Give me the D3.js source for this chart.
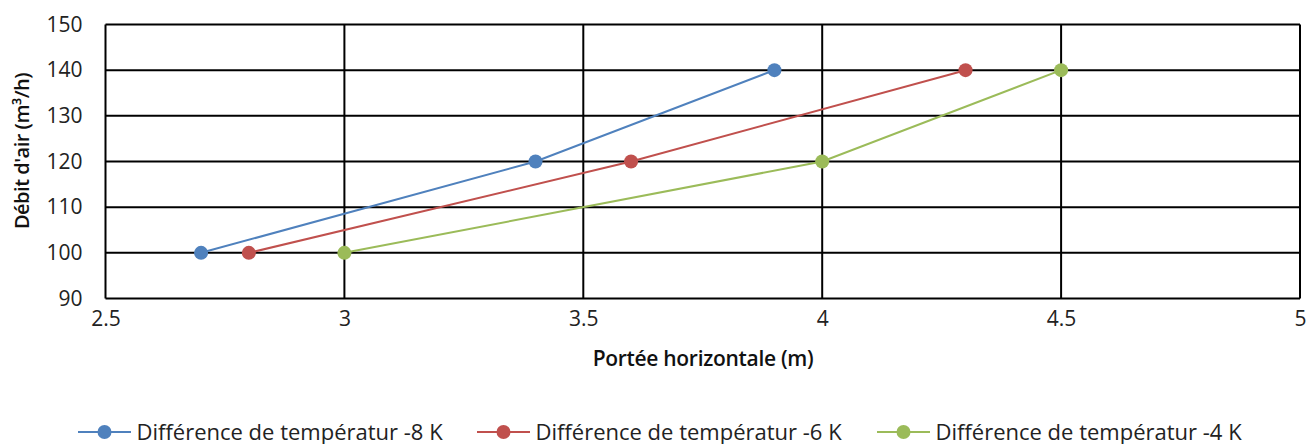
<!DOCTYPE html>
<html><head><meta charset="utf-8">
<script src="https://cdn.jsdelivr.net/npm/d3@7"></script>
<style>body{margin:0;background:#fff;}svg{display:block;}</style>
</head><body>
<svg id="c" width="1309" height="444"></svg>
<script>
const seriesNames = ["Différence de températur -8 K","Différence de températur -6 K","Différence de températur -4 K"];
const seriesColors = ["#4F81BD","#C0504D","#9BBB59"];
const flowValues = [100,120,140];
const reach8 = [2.7,3.4,3.9];
const reach6 = [2.8,3.6,4.3];
const reach4 = [3.0,4.0,4.5];
const xTicks = [2.5,3,3.5,4,4.5,5];
const yTicks = [90,100,110,120,130,140,150];
const xTitle = "Portée horizontale (m)";
const yTitle = "Débit d'air (m³/h)";

const svg = d3.select("#c");
const font = "'Open Sans', 'Noto Sans', sans-serif";
const x = d3.scaleLinear().domain([2.5,5]).range([105.5,1300]);
const y = d3.scaleLinear().domain([90,150]).range([298.5,24.5]);

svg.append("g").selectAll("line").data(yTicks).join("line")
  .attr("x1",x(2.5)).attr("x2",x(5)).attr("y1",d=>y(d)).attr("y2",d=>y(d))
  .attr("stroke","#000").attr("stroke-width",2);
svg.append("g").selectAll("line").data(xTicks).join("line")
  .attr("y1",y(90)).attr("y2",y(150)).attr("x1",d=>x(d)).attr("x2",d=>x(d))
  .attr("stroke","#000").attr("stroke-width",2);

const xAxis = svg.append("g").attr("transform",`translate(0,${y(90)})`)
  .call(d3.axisBottom(x).tickValues(xTicks).tickSize(0).tickPadding(13).tickFormat(d3.format("")));
xAxis.select(".domain").remove();
xAxis.selectAll("text").attr("font-family",font).attr("font-size",21).attr("fill","#222");
const yAxis = svg.append("g").attr("transform",`translate(${x(2.5)},0)`)
  .call(d3.axisLeft(y).tickValues(yTicks).tickSize(0).tickPadding(23));
yAxis.select(".domain").remove();
yAxis.selectAll("text").attr("font-family",font).attr("font-size",21).attr("fill","#222");

svg.append("text").attr("x",703).attr("y",366).attr("text-anchor","middle")
  .attr("font-family",font).attr("font-size",21).attr("font-weight",600).attr("letter-spacing",-0.3).attr("fill","#111").text(xTitle);
svg.append("text").attr("transform","translate(29,151) rotate(-90)").attr("text-anchor","middle")
  .attr("font-family",font).attr("font-size",20).attr("font-weight",600).attr("letter-spacing",-0.5).attr("fill","#111").text(yTitle);

const series = [reach8,reach6,reach4];
const line = d3.line().x(d=>x(d[0])).y(d=>y(d[1]));
series.forEach((s,i)=>{
  const pts = s.map((v,j)=>[v,flowValues[j]]);
  svg.append("path").attr("d",line(pts)).attr("fill","none").attr("stroke",seriesColors[i]).attr("stroke-width",2);
  svg.append("g").selectAll("circle").data(pts).join("circle")
    .attr("cx",d=>x(d[0])).attr("cy",d=>y(d[1])).attr("r",7).attr("fill",seriesColors[i]);
});

const legX = [78,477,877];
seriesNames.forEach((n,i)=>{
  const g = svg.append("g").attr("transform",`translate(${legX[i]},432)`);
  g.append("line").attr("x1",0).attr("x2",53).attr("stroke",seriesColors[i]).attr("stroke-width",2);
  g.append("circle").attr("cx",26.5).attr("r",7).attr("fill",seriesColors[i]);
  g.append("text").attr("x",58.5).attr("y",7.5).attr("font-family",font).attr("font-size",22).attr("fill","#222").text(n);
});
</script>
</body></html>
